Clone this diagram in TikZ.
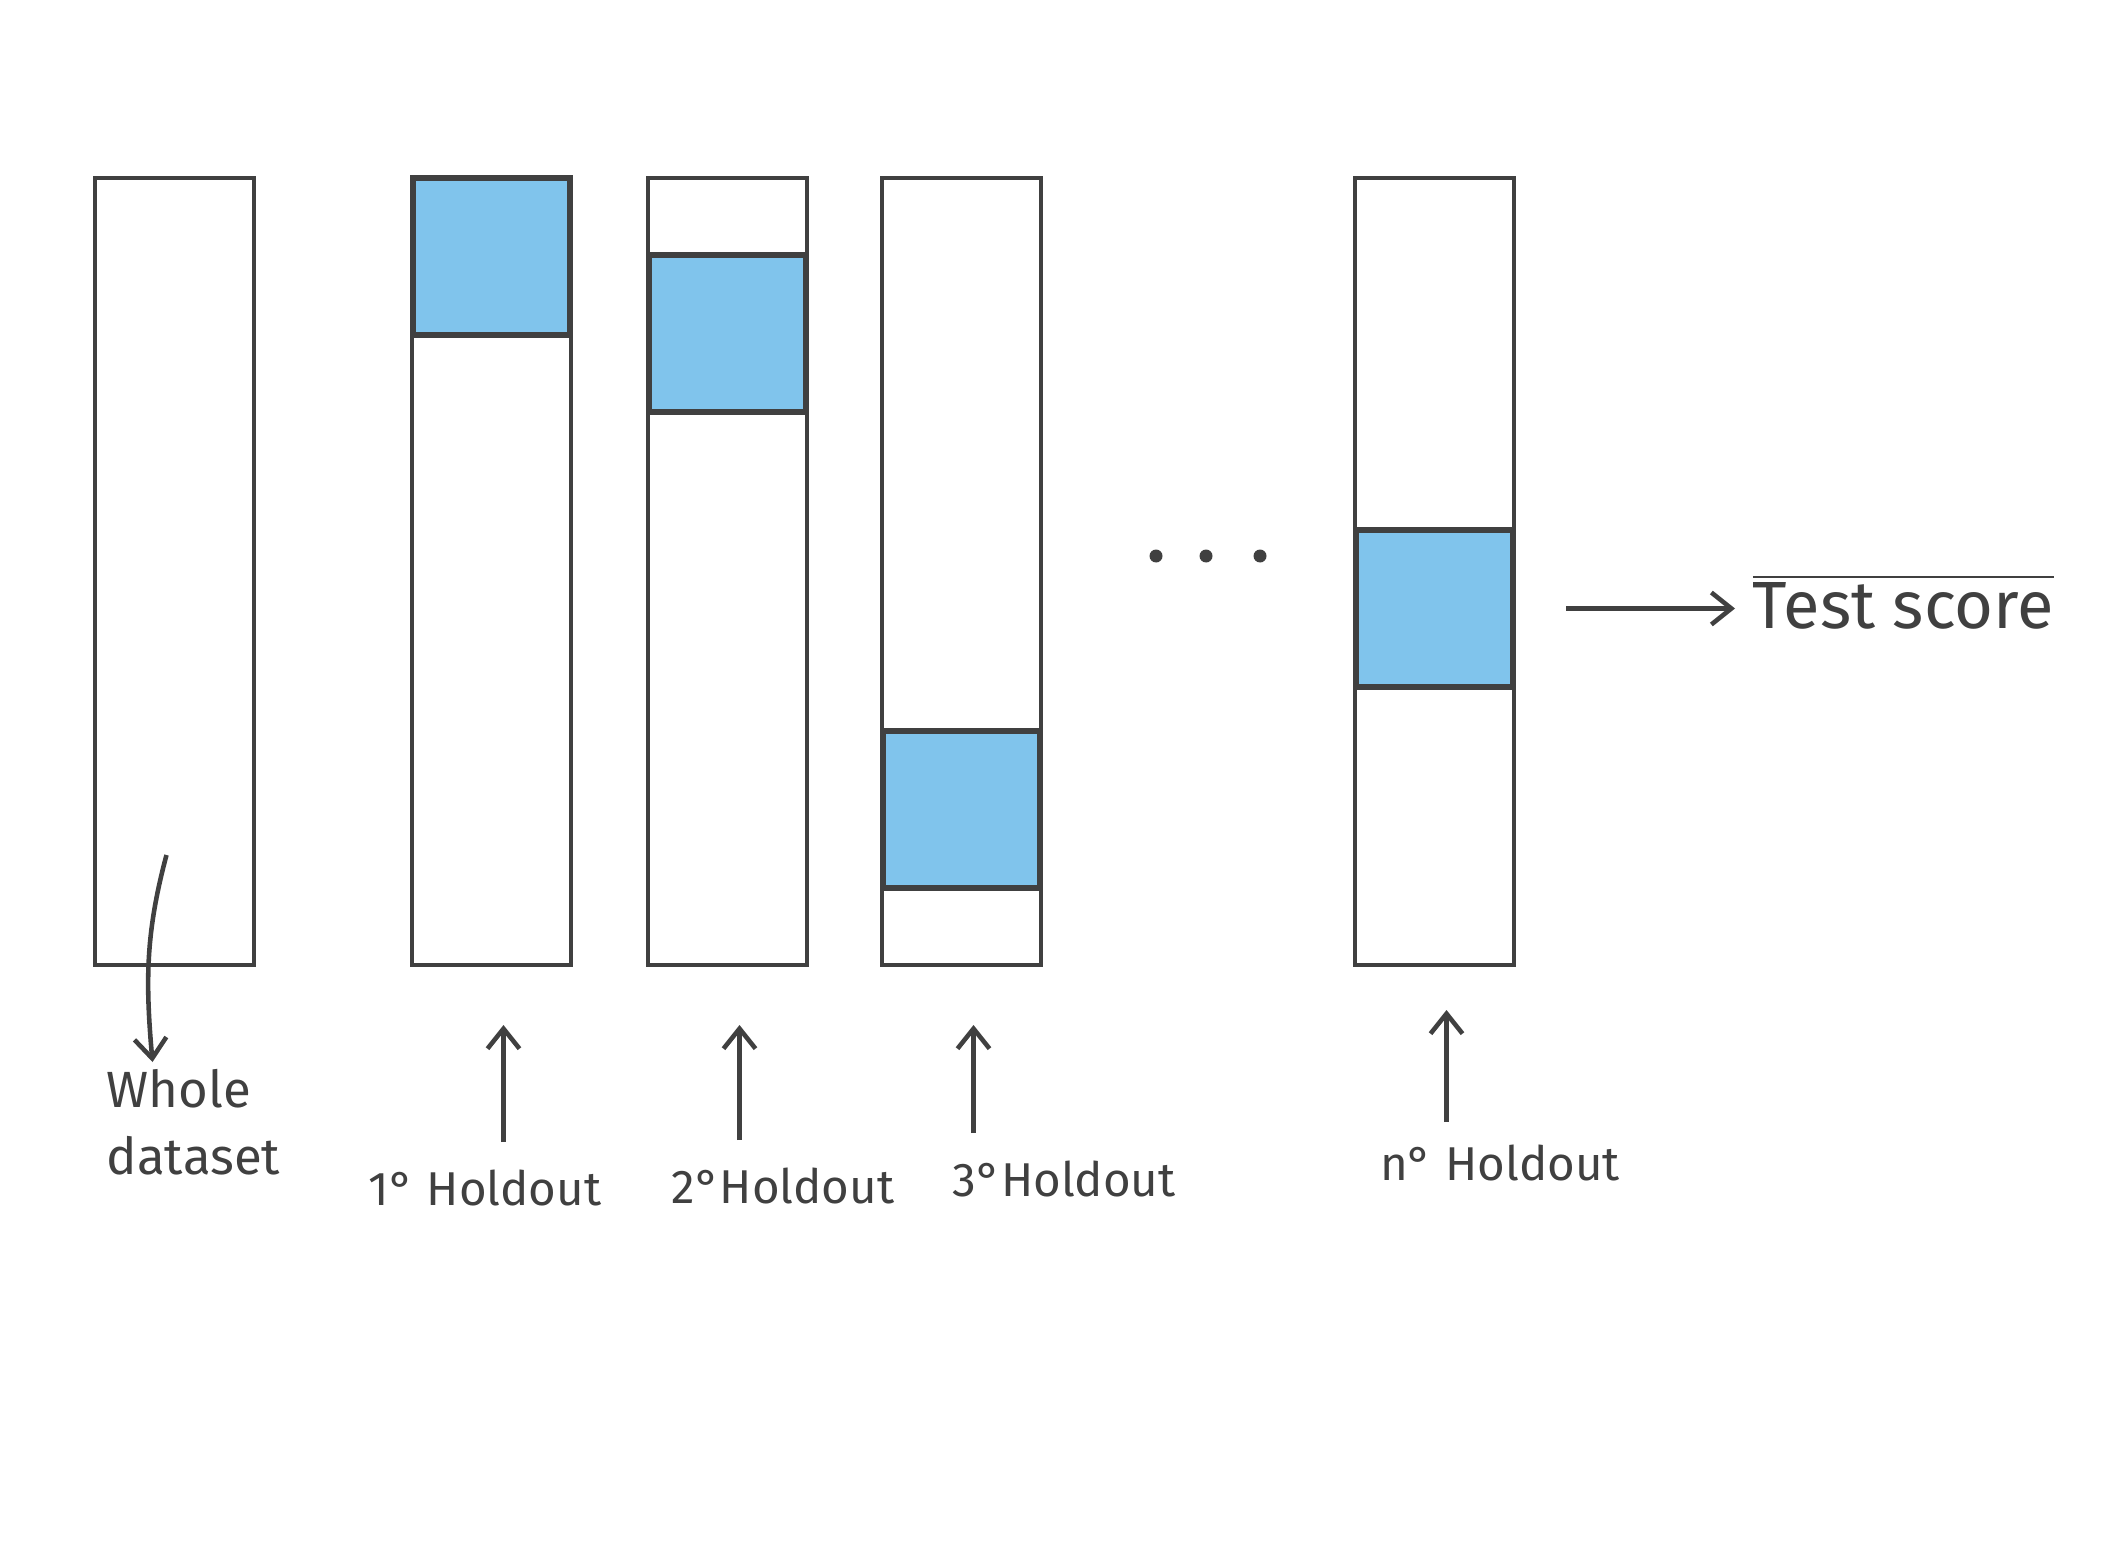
\documentclass[tikz,border=0pt]{standalone}
\usepackage{fontspec}
\setmainfont{Fira Sans}
\usetikzlibrary{positioning,arrows.meta,calc}
\definecolor{inkgray}{RGB}{64,64,64}
\definecolor{holdblue}{RGB}{128,196,236}
\tikzset{
  hoarr/.style={-{Straight Barb[length=2mm,width=3.2mm]},draw=inkgray,line width=1.3pt},
  bar/.style={draw=inkgray,line width=1.1pt,minimum width=1.59cm,minimum height=7.87cm,
              inner sep=0pt,outer sep=0pt,anchor=north west},
  fold/.style={draw=inkgray,fill=holdblue,line width=1.7pt,minimum width=1.57cm,
               minimum height=1.57cm,inner sep=0pt,outer sep=0pt,anchor=north},
  lbl/.style={inner sep=2pt},
  dot/.style={circle,fill=inkgray,inner sep=0pt,minimum size=0.13cm}
}

\begin{document}
\begin{tikzpicture}[every node/.style={font=\fontsize{13.5}{18}\selectfont,text=inkgray}]
\useasboundingbox (0,0) rectangle (21.25,-15.45);

% the folds
\node[bar] (b0) at (0.95,-1.78) {};
\node[bar, right=1.58cm of b0.north east, anchor=north west] (b1) {};
\node[bar, right=0.77cm of b1.north east, anchor=north west] (b2) {};
\node[bar, right=0.75cm of b2.north east, anchor=north west] (b3) {};
\node[bar, right=3.14cm of b3.north east, anchor=north west] (bn) {};

% held-out parts
\node[fold] (f1) at (b1.north) {};
\node[fold] (f2) at ([yshift=-0.77cm]b2.north) {};
\node[fold] (f3) at ([yshift=-5.53cm]b3.north) {};
\node[fold] (fn) at ([yshift=-3.52cm]bn.north) {};

\foreach \i/\x in {1/11.56,2/12.06,3/12.60}
  \node[dot] (d\i) at (\x,-5.56) {};

% labels
\node[lbl, align=left, anchor=north west, font=\fontsize{14.5}{19}\selectfont] (wd) at (0.99,-10.62) {Whole\\dataset};
\node[lbl] (l1) at (4.85,-11.88) {1° Holdout};
\node[lbl] (l2) at (7.83,-11.86) {2°Holdout};
\node[lbl] (l3) at (10.64,-11.79) {3°Holdout};
\node[lbl] (ln) at (15.00,-11.63) {n° Holdout};
\node[lbl, anchor=west, font=\fontsize{19}{22}\selectfont] (ts) at (17.45,-6.02) {$\overline{\mbox{Test score}}$};

\coordinate (wdstart) at ([xshift=-0.08cm,yshift=1.1cm]b0.south);
\draw[hoarr] (wdstart) to[out=-105,in=95] (wd.north -| {$(b0.south)+(-0.22,0)$});
\foreach \b/\l/\s/\e in {b1/l1/0.2/0.6, b2/l2/0.2/0.6, b3/l3/0.2/0.6, bn/ln/0.15/0.45}
  \draw[hoarr, shorten <=\s cm, shorten >=\e cm, transform canvas={xshift=0.12cm}]
    (\b.south |- \l.north) -- (\b.south);
\draw[hoarr, shorten <=0.53cm, shorten >=0.1cm] (fn.east) -- (fn.east -| ts.west);
\end{tikzpicture}
\end{document}
